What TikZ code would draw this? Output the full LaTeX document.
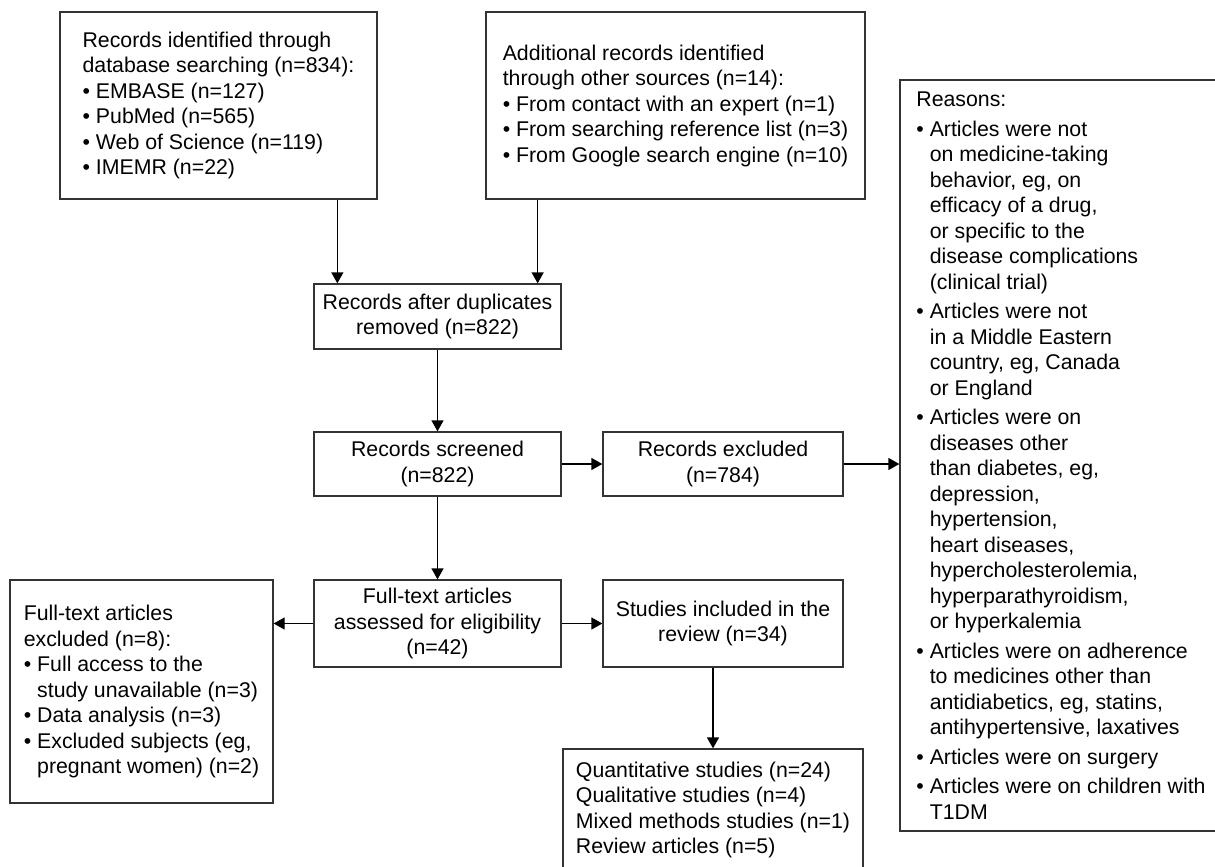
\documentclass[tikz,border=0pt]{standalone}
\usepackage{fontspec}
\setmainfont{Liberation Sans}
\usetikzlibrary{arrows.meta}
\definecolor{frame}{HTML}{333333}
\newcommand{\bul}{\textbullet\ }
\newcommand{\cont}{\phantom{\textbullet\ }}
\tikzset{
  box/.style={draw=frame, line width=1.3pt, inner sep=0pt, font=\fontsize{21.3}{25.5}\selectfont},
  listbox/.style={box, align=left},
  midbox/.style={box, align=center},
  arr/.style={draw=black, line width=1.3pt, -{Triangle[length=11pt,width=12pt]}},
}

\begin{document}
\begin{tikzpicture}[x=1pt,y=-1pt]
      \useasboundingbox (0,0) rectangle (1215,867);

      % identification
      \node[listbox, minimum width=317pt, minimum height=187pt] (dbsearch) at (218.5,105.5)
        {Records identified through\\ database searching (n=834):\\ \bul EMBASE (n=127)\\ \bul PubMed (n=565)\\ \bul Web of Science (n=119)\\ \bul IMEMR (n=22)};
      \node[listbox, minimum width=379pt, minimum height=187pt] (othersrc) at (675.5,105.5)
        {Additional records identified\\ through other sources (n=14):\\ \bul From contact with an expert (n=1)\\ \bul From searching reference list (n=3)\\ \bul From Google search engine (n=10)};

      % screening
      \node[midbox, minimum width=247pt, minimum height=65pt] (dedup) at (437.5,316.5)
        {Records after duplicates\\ removed (n=822)};
      \node[midbox, minimum width=247pt, minimum height=64pt] (screened) at (437.5,464)
        {Records screened\\ (n=822)};
      \node[midbox, minimum width=240pt, minimum height=64pt] (excluded) at (723,464)
        {Records excluded\\ (n=784)};
      \node[listbox, minimum width=322pt, minimum height=751pt] (reasons) at (1061,455.5)
        {Reasons:\\[4pt]
         \bul Articles were not\\ \cont on medicine-taking\\ \cont behavior, eg, on\\ \cont efficacy of a drug,\\ \cont or specific to the\\ \cont disease complications\\ \cont (clinical trial)\\[4pt]
         \bul Articles were not\\ \cont in a Middle Eastern\\ \cont country, eg, Canada\\ \cont or England\\[4pt]
         \bul Articles were on\\ \cont diseases other\\ \cont than diabetes, eg,\\ \cont depression,\\ \cont hypertension,\\ \cont heart diseases,\\ \cont hypercholesterolemia,\\ \cont hyperparathyroidism,\\ \cont or hyperkalemia\\[4pt]
         \bul Articles were on adherence\\ \cont to medicines other than\\ \cont antidiabetics, eg, statins,\\ \cont antihypertensive, laxatives\\[4pt]
         \bul Articles were on surgery\\[4pt]
         \bul Articles were on children with\\ \cont T1DM};

      % eligibility
      \node[midbox, minimum width=247pt, minimum height=87pt] (assessed) at (437.5,623.5)
        {Full-text articles\\ assessed for eligibility\\ (n=42)};
      \node[midbox, minimum width=240pt, minimum height=87pt] (included) at (723,623.5)
        {Studies included in the\\ review (n=34)};
      \node[listbox, minimum width=263pt, minimum height=223pt] (ftexcluded) at (141.5,691.5)
        {Full-text articles\\ excluded (n=8):\\ \bul Full access to the\\ \cont study unavailable (n=3)\\ \bul Data analysis (n=3)\\ \bul Excluded subjects (eg,\\ \cont pregnant women) (n=2)};

      % included
      \node[listbox, minimum width=300pt, minimum height=122pt] (synthesis) at (713,810)
        {Quantitative studies (n=24)\\ Qualitative studies (n=4)\\ Mixed methods studies (n=1)\\ Review articles (n=5)};

      % arrows
      \draw[arr] ([xshift=24pt]dedup.north west |- dbsearch.south) -- ([xshift=24pt]dedup.north west);
      \draw[arr] ([xshift=-24pt]dedup.north east |- othersrc.south) -- ([xshift=-24pt]dedup.north east);
      \draw[arr] (dedup) -- (screened);
      \draw[arr] (screened) -- (excluded);
      \draw[arr] (excluded.east) -- (excluded.east -| reasons.west);
      \draw[arr] (screened) -- (assessed);
      \draw[arr] (assessed.west) -- (assessed.west -| ftexcluded.east);
      \draw[arr] (assessed) -- (included);
      \draw[arr] (synthesis.north |- included.south) -- (synthesis.north);
\end{tikzpicture}
\end{document}
